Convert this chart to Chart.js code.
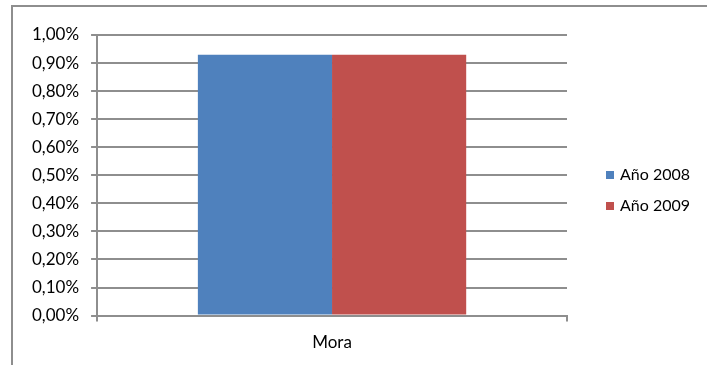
<!DOCTYPE html>
<html>
<head>
<meta charset="utf-8">
<script src="https://cdn.jsdelivr.net/npm/chart.js@4"></script>
<style>
  body { margin: 0; background: #fff; }
  #frame {
    position: absolute; left: 11px; top: 5px;
    width: 696px; height: 360px;
    border-top: 2px solid #8e8e8e; border-left: 2px solid #8e8e8e;
  }
  #chart { display: block; }
</style>
</head>
<body>
<div id="frame"><canvas id="chart" width="694" height="358"></canvas></div>
<script>
const categories = ["Mora"];
const seriesNames = ["Año 2008", "Año 2009"];
const values2008 = [0.93];
const values2009 = [0.93];
const yTicks = [0, 0.1, 0.2, 0.3, 0.4, 0.5, 0.6, 0.7, 0.8, 0.9, 1.0];

const colors = ["#4f81bd", "#c0504d"];
const font = "Lato, 'Open Sans', sans-serif";

// legend drawn by hand so it sits where Excel put it
const sideLegend = {
  id: "sideLegend",
  afterDraw(chart) {
    const ctx = chart.ctx;
    ctx.save();
    ctx.font = "16px " + font;
    ctx.textBaseline = "middle";
    chart.data.datasets.forEach((ds, i) => {
      const y = 168 + i * 31;
      ctx.fillStyle = ds.backgroundColor;
      ctx.fillRect(593, y - 4, 8, 8);
      ctx.fillStyle = "#000";
      ctx.fillText(ds.label, 607, y);
    });
    ctx.restore();
  }
};

new Chart(document.getElementById("chart"), {
  type: "bar",
  data: {
    labels: categories,
    datasets: [
      { label: seriesNames[0], data: values2008, backgroundColor: colors[0] },
      { label: seriesNames[1], data: values2009, backgroundColor: colors[1] },
    ],
  },
  options: {
    responsive: false,
    animation: false,
    categoryPercentage: 0.571,
    barPercentage: 1,
    layout: { padding: { top: 28, right: 140, bottom: 1, left: 7 } },
    plugins: {
      legend: { display: false },
      tooltip: { enabled: false },
    },
    scales: {
      x: {
        grid: {
          offset: true,
          drawOnChartArea: false,
          color: "#8e8e8e",
          lineWidth: 2,
          tickLength: 6,
        },
        border: { color: "#8e8e8e", width: 2 },
        ticks: { color: "#000", font: { family: font, size: 17 }, padding: 11 },
      },
      y: {
        min: 0,
        max: 1,
        afterBuildTicks(axis) {
          axis.ticks = yTicks.map((v) => ({ value: v }));
        },
        grid: { color: "#8e8e8e", lineWidth: 2, tickLength: 6 },
        border: { color: "#8e8e8e", width: 2 },
        ticks: {
          color: "#000",
          font: { family: font, size: 17 },
          padding: 12,
          callback: (v) => v.toFixed(2).replace(".", ",") + "%",
        },
      },
    },
  },
  plugins: [sideLegend],
});
</script>
</body>
</html>
